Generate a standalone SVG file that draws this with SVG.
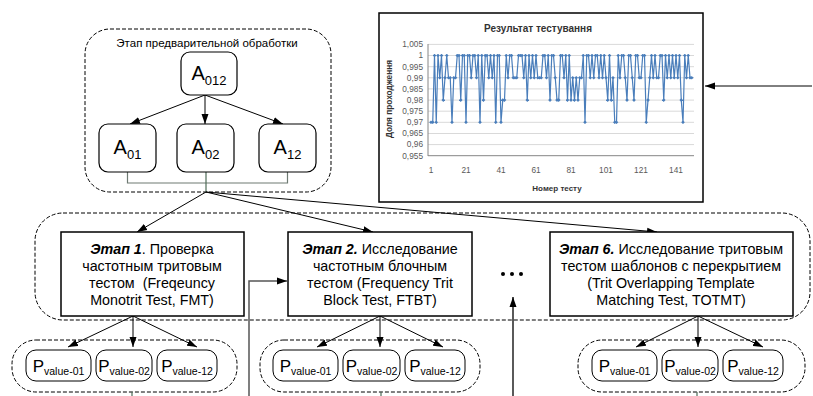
<svg xmlns="http://www.w3.org/2000/svg" width="813" height="396" viewBox="0 0 813 396">
<style>
text{font-family:"Liberation Sans",Arial,sans-serif;fill:#000}
.grp{fill:none;stroke:#000;stroke-width:1;stroke-dasharray:4 2}
.abox{fill:#fff;stroke:#000;stroke-width:1.2}
.sbox{fill:#fff;stroke:#000;stroke-width:1.5}
.pbox{fill:#fff;stroke:#000;stroke-width:1}
.conn{fill:none;stroke:#000;stroke-width:1;marker-end:url(#ah)}
.gl{fill:none;stroke:#4d6b57;stroke-width:1.2}
.st{font-size:14.3px;text-anchor:middle}
.big{font-size:20px;text-anchor:middle}
.pt{font-size:17px;text-anchor:middle}
.sub{font-size:13px}
.psub{font-size:10.5px}
.grid{stroke:#d9d9d9;stroke-width:1}
.yl{font-size:8.3px;fill:#595959;text-anchor:end}
.xl{font-size:8.3px;fill:#595959;text-anchor:middle}
</style>
<defs>
<marker id="ah" markerUnits="userSpaceOnUse" markerWidth="10" markerHeight="8" viewBox="0 0 10 8" refX="10" refY="4" orient="auto"><path d="M0,0.5 L10,4 L0,7.5 Z" fill="#000"/></marker>
<marker id="dm" markerUnits="userSpaceOnUse" markerWidth="4" markerHeight="4" viewBox="-2 -2 4 4" refX="0" refY="0"><path d="M0,-1.8 L1.8,0 L0,1.8 L-1.8,0 Z" fill="#4a7ebb"/></marker>
</defs>

<!-- group frames -->
<rect id="grp-pre" class="grp" x="85" y="29" width="246" height="163" rx="25"/>
<text x="207" y="47" style="font-size:11.5px;text-anchor:middle">Этап предварительной обработки</text>
<rect id="grp-stages" class="grp" x="35" y="213" width="775" height="107" rx="28"/>
<rect id="grp-p1" class="grp" x="12" y="340" width="225" height="52" rx="24"/>
<rect id="grp-p2" class="grp" x="260" y="340" width="220" height="52" rx="24"/>
<rect id="grp-p6" class="grp" x="578" y="340" width="227" height="52" rx="24"/>

<!-- connectors -->
<g id="connectors">
<line class="conn" x1="205" y1="95" x2="130" y2="124"/>
<line class="conn" x1="205" y1="95" x2="205" y2="124"/>
<line class="conn" x1="205" y1="95" x2="283" y2="124"/>
<polyline class="gl" points="127.5,172 127.5,183 287.5,183 287.5,172" style="stroke:#6e7a72"/>
<line class="gl" x1="206" y1="172" x2="206" y2="192"/>
<line class="conn" x1="206" y1="192" x2="137" y2="232"/>
<line class="conn" x1="206" y1="192" x2="373" y2="232"/>
<line class="conn" x1="206" y1="192" x2="657" y2="232"/>
<line class="conn" x1="812" y1="86" x2="705" y2="86"/>
<line class="conn" x1="133" y1="316" x2="68" y2="347"/>
<line class="conn" x1="133" y1="316" x2="133" y2="347"/>
<line class="conn" x1="133" y1="316" x2="197" y2="347"/>
<line class="conn" x1="380" y1="316" x2="317" y2="347"/>
<line class="conn" x1="380" y1="316" x2="380" y2="347"/>
<line class="conn" x1="380" y1="316" x2="443" y2="347"/>
<line class="conn" x1="698" y1="316" x2="636" y2="347"/>
<line class="conn" x1="698" y1="316" x2="698" y2="347"/>
<line class="conn" x1="698" y1="316" x2="763" y2="347"/>
<polyline class="conn" points="249,396 249,281 287,281" style="stroke:#555;stroke-width:1.5"/>
<line class="conn" x1="513" y1="396" x2="513" y2="297" style="stroke-width:1.3"/>
<line class="gl" x1="132" y1="392" x2="132" y2="396"/>
<line class="gl" x1="381" y1="392" x2="381" y2="396"/>
<line class="gl" x1="697" y1="392" x2="697" y2="396"/>
</g>

<!-- A nodes -->
<g id="a012"><rect class="abox" x="181" y="52" width="56" height="43" rx="9"/><text class="big" x="209" y="80">A<tspan class="sub" dy="5">012</tspan></text></g>
<g id="a01"><rect class="abox" x="99" y="124" width="57" height="48" rx="9"/><text class="big" x="127.5" y="154">A<tspan class="sub" dy="5">01</tspan></text></g>
<g id="a02"><rect class="abox" x="177" y="124" width="57" height="48" rx="9"/><text class="big" x="205.5" y="154">A<tspan class="sub" dy="5">02</tspan></text></g>
<g id="a12"><rect class="abox" x="259" y="124" width="57" height="48" rx="9"/><text class="big" x="287.5" y="154">A<tspan class="sub" dy="5">12</tspan></text></g>

<!-- Stage nodes -->
<g id="stage1"><rect class="sbox" x="61" y="232" width="183" height="84"/>
<text class="st" x="152" y="254"><tspan style="font-weight:bold;font-style:italic">Этап 1</tspan>. Проверка</text>
<text class="st" x="152" y="271">частотным тритовым</text>
<text class="st" x="152" y="288" style="white-space:pre">тестом  (Freqeuncy</text>
<text class="st" x="152" y="305">Monotrit Test, FMT)</text></g>
<g id="stage2"><rect class="sbox" x="288" y="232" width="184" height="84"/>
<text class="st" x="380" y="254"><tspan style="font-weight:bold;font-style:italic">Этап 2.</tspan> Исследование</text>
<text class="st" x="380" y="271">частотным блочным</text>
<text class="st" x="380" y="288">тестом (Frequency Trit</text>
<text class="st" x="380" y="305">Block Test, FTBT)</text></g>
<g id="stage6"><rect class="sbox" x="550" y="232" width="243" height="84"/>
<text class="st" x="671" y="254"><tspan style="font-weight:bold;font-style:italic">Этап 6.</tspan> Исследование тритовым</text>
<text class="st" x="671" y="271">тестом шаблонов с перекрытием</text>
<text class="st" x="671" y="288">(Trit Overlapping Template</text>
<text class="st" x="671" y="305">Matching Test, TOTMT)</text></g>
<g id="dots"><circle cx="503" cy="274" r="2"/><circle cx="512" cy="274" r="2"/><circle cx="521" cy="274" r="2"/></g>

<!-- P nodes -->
<g id="p1-01"><rect class="pbox" x="26" y="350" width="65" height="31" rx="10"/><text class="pt" x="58.5" y="372">P<tspan class="psub" dy="3">value-01</tspan></text></g>
<g id="p1-02"><rect class="pbox" x="96" y="350" width="56" height="31" rx="10"/><text class="pt" x="124" y="372">P<tspan class="psub" dy="3">value-02</tspan></text></g>
<g id="p1-12"><rect class="pbox" x="157" y="350" width="60" height="31" rx="10"/><text class="pt" x="187" y="372">P<tspan class="psub" dy="3">value-12</tspan></text></g>
<g id="p2-01"><rect class="pbox" x="273" y="350" width="65" height="31" rx="10"/><text class="pt" x="305.5" y="372">P<tspan class="psub" dy="3">value-01</tspan></text></g>
<g id="p2-02"><rect class="pbox" x="343" y="350" width="57" height="31" rx="10"/><text class="pt" x="371.5" y="372">P<tspan class="psub" dy="3">value-02</tspan></text></g>
<g id="p2-12"><rect class="pbox" x="405" y="350" width="60" height="31" rx="10"/><text class="pt" x="435" y="372">P<tspan class="psub" dy="3">value-12</tspan></text></g>
<g id="p6-01"><rect class="pbox" x="592" y="350" width="65" height="31" rx="10"/><text class="pt" x="624.5" y="372">P<tspan class="psub" dy="3">value-01</tspan></text></g>
<g id="p6-02"><rect class="pbox" x="662" y="350" width="56" height="31" rx="10"/><text class="pt" x="690" y="372">P<tspan class="psub" dy="3">value-02</tspan></text></g>
<g id="p6-12"><rect class="pbox" x="723" y="350" width="60" height="31" rx="10"/><text class="pt" x="753" y="372">P<tspan class="psub" dy="3">value-12</tspan></text></g>

<!-- Chart -->
<g id="chart">
<rect x="379" y="13" width="324" height="189" fill="#fff" stroke="#000" stroke-width="1.5"/>
<text x="538" y="32" style="font-size:10px;font-weight:bold;text-anchor:middle;fill:#333">Результат тестування</text>
<g>
<line class="grid" x1="428" y1="44.4" x2="694" y2="44.4"/>
<line class="grid" x1="428" y1="55.5" x2="694" y2="55.5"/>
<line class="grid" x1="428" y1="66.7" x2="694" y2="66.7"/>
<line class="grid" x1="428" y1="77.8" x2="694" y2="77.8"/>
<line class="grid" x1="428" y1="88.9" x2="694" y2="88.9"/>
<line class="grid" x1="428" y1="100.1" x2="694" y2="100.1"/>
<line class="grid" x1="428" y1="111.2" x2="694" y2="111.2"/>
<line class="grid" x1="428" y1="122.3" x2="694" y2="122.3"/>
<line class="grid" x1="428" y1="133.5" x2="694" y2="133.5"/>
<line class="grid" x1="428" y1="144.6" x2="694" y2="144.6"/>
<line x1="428" y1="155.7" x2="694" y2="155.7" stroke="#868686"/>
<line x1="428" y1="44" x2="428" y2="156" stroke="#868686"/>
</g>
<text class="yl" x="423" y="47.2">1,005</text>
<text class="yl" x="423" y="58.3">1</text>
<text class="yl" x="423" y="69.5">0,995</text>
<text class="yl" x="423" y="80.6">0,99</text>
<text class="yl" x="423" y="91.7">0,985</text>
<text class="yl" x="423" y="102.9">0,98</text>
<text class="yl" x="423" y="114">0,975</text>
<text class="yl" x="423" y="125.1">0,97</text>
<text class="yl" x="423" y="136.3">0,965</text>
<text class="yl" x="423" y="147.4">0,96</text>
<text class="yl" x="423" y="158.5">0,955</text>
<text class="xl" x="431" y="173">1</text>
<text class="xl" x="466" y="173">21</text>
<text class="xl" x="501" y="173">41</text>
<text class="xl" x="536" y="173">61</text>
<text class="xl" x="571" y="173">81</text>
<text class="xl" x="606" y="173">101</text>
<text class="xl" x="641" y="173">121</text>
<text class="xl" x="676" y="173">141</text>
<text x="557" y="191" style="font-size:8px;font-weight:bold;text-anchor:middle;fill:#333">Номер тесту</text>
<text transform="translate(392,99) rotate(-90)" style="font-size:8.3px;font-weight:bold;text-anchor:middle;fill:#333">Доля проходження</text>
<polyline fill="none" stroke="#4a7ebb" stroke-width="1.2" stroke-linejoin="round" marker-start="url(#dm)" marker-mid="url(#dm)" marker-end="url(#dm)" points="431,122.3 432.75,122.3 434.5,55.5 436.25,122.3 438,55.5 439.75,77.8 441.5,55.5 443.25,100.1 445,77.8 446.75,55.5 448.5,77.8 450.25,77.8 452,122.3 453.75,77.8 455.5,77.8 457.25,55.5 459,55.5 460.75,100.1 462.5,55.5 464.25,55.5 466,122.3 467.75,55.5 469.5,55.5 471.25,77.8 473,55.5 474.75,55.5 476.5,77.8 478.25,55.5 480,122.3 481.75,55.5 483.5,100.1 485.25,55.5 487,55.5 488.75,77.8 490.5,55.5 492.25,77.8 494,55.5 495.75,122.3 497.5,55.5 499.25,55.5 501,122.3 502.75,100.1 504.5,100.1 506.25,55.5 508,77.8 509.75,55.5 511.5,55.5 513.25,77.8 515,77.8 516.75,77.8 518.5,55.5 520.25,55.5 522,55.5 523.75,77.8 525.5,55.5 527.25,100.1 529,55.5 530.75,77.8 532.5,55.5 534.25,77.8 536,55.5 537.75,77.8 539.5,77.8 541.25,77.8 543,55.5 544.75,55.5 546.5,77.8 548.25,55.5 550,100.1 551.75,55.5 553.5,55.5 555.25,77.8 557,100.1 558.75,100.1 560.5,55.5 562.25,55.5 564,77.8 565.75,55.5 567.5,100.1 569.25,55.5 571,100.1 572.75,77.8 574.5,100.1 576.25,77.8 578,100.1 579.75,77.8 581.5,77.8 583.25,55.5 585,122.3 586.75,55.5 588.5,55.5 590.25,77.8 592,55.5 593.75,77.8 595.5,55.5 597.25,55.5 599,77.8 600.75,55.5 602.5,77.8 604.25,55.5 606,77.8 607.75,100.1 609.5,55.5 611.25,100.1 613,77.8 614.75,122.3 616.5,122.3 618.25,55.5 620,77.8 621.75,55.5 623.5,55.5 625.25,77.8 627,100.1 628.75,55.5 630.5,55.5 632.25,77.8 634,100.1 635.75,55.5 637.5,55.5 639.25,77.8 641,77.8 642.75,55.5 644.5,55.5 646.25,122.3 648,100.1 649.75,77.8 651.5,55.5 653.25,77.8 655,55.5 656.75,77.8 658.5,77.8 660.25,55.5 662,55.5 663.75,100.1 665.5,55.5 667.25,77.8 669,55.5 670.75,77.8 672.5,55.5 674.25,77.8 676,55.5 677.75,77.8 679.5,55.5 681.25,100.1 683,122.3 684.75,55.5 686.5,77.8 688.25,55.5 690,77.8 691.75,77.8"/>
</g>
</svg>
